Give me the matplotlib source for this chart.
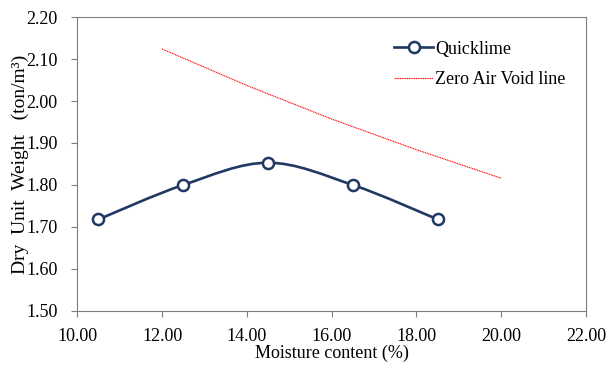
import matplotlib
matplotlib.use('Agg')
import matplotlib.pyplot as plt
from matplotlib.path import Path
from matplotlib.patches import PathPatch
from matplotlib.lines import Line2D

plt.rcParams['font.family'] = ['Liberation Serif', 'DejaVu Serif']

# data
moisture = [10.5, 12.5, 14.5, 16.5, 18.5]
dry_unit_weight = [1.718, 1.800, 1.853, 1.800, 1.718]
zav_moisture = [12.0, 14.0, 16.0, 18.0, 20.0]
zav_weight = [2.124, 2.037, 1.957, 1.884, 1.816]
xticks = [10, 12, 14, 16, 18, 20, 22]
yticks = [1.5, 1.6, 1.7, 1.8, 1.9, 2.0, 2.1, 2.2]

navy = '#203864'

fig = plt.figure(figsize=(6.08, 3.71), dpi=100)
ax = fig.add_axes([0.127, 0.162, 0.837, 0.792])


# Excel-style smoothed line: cubic bezier through the points
def smooth_path(xs, ys, t=1/6):
    verts = [(xs[0], ys[0])]
    codes = [Path.MOVETO]
    n = len(xs)
    for i in range(n - 1):
        x0, y0 = (xs[i - 1], ys[i - 1]) if i > 0 else (xs[i], ys[i])
        x1, y1 = xs[i], ys[i]
        x2, y2 = xs[i + 1], ys[i + 1]
        x3, y3 = (xs[i + 2], ys[i + 2]) if i + 2 < n else (x2, y2)
        c1 = (x1 + (x2 - x0) * t, y1 + (y2 - y0) * t)
        c2 = (x2 - (x3 - x1) * t, y2 - (y3 - y1) * t)
        verts += [c1, c2, (x2, y2)]
        codes += [Path.CURVE4] * 3
    return Path(verts, codes)


ax.add_patch(PathPatch(smooth_path(moisture, dry_unit_weight), fill=False,
                       edgecolor=navy, lw=1.9, zorder=3))
ax.plot(moisture, dry_unit_weight, ls='none', marker='o', ms=8,
        mfc='white', mec=navy, mew=1.8, zorder=4)
ax.plot(zav_moisture, zav_weight, color='red', ls=(0, (1, 0.6)), lw=0.8)

handles = [Line2D([], [], color=navy, lw=1.9, marker='o', ms=8, mfc='white', mec=navy, mew=1.8),
           Line2D([], [], color='red', ls=(0, (1, 0.6)), lw=0.8)]
ax.legend(handles, ['Quicklime', 'Zero Air Void line'], loc='upper left',
          bbox_to_anchor=(0.59, 0.975), frameon=False, fontsize=13,
          handlelength=2.2, handletextpad=0.1, labelspacing=0.75)

ax.set_xlim(10, 22)
ax.set_ylim(1.5, 2.2)
ax.set_xticks(xticks)
ax.set_yticks(yticks)
ax.set_xticklabels(['%.2f' % v for v in xticks], fontsize=13)
ax.set_yticklabels(['%.2f' % v for v in yticks], fontsize=13)
ax.tick_params(direction='out', length=4, color='#7f7f7f')
ax.tick_params(axis='x', pad=8)
ax.tick_params(axis='y', pad=10)
for s in ax.spines.values():
    s.set_color('#7f7f7f')
ax.set_xlabel('Moisture content (%)', fontsize=13, labelpad=0)
ax.set_ylabel('Dry  Unit  Weight   (ton/m³)', fontsize=14, labelpad=-2)

fig.savefig('out.png', dpi=100)
